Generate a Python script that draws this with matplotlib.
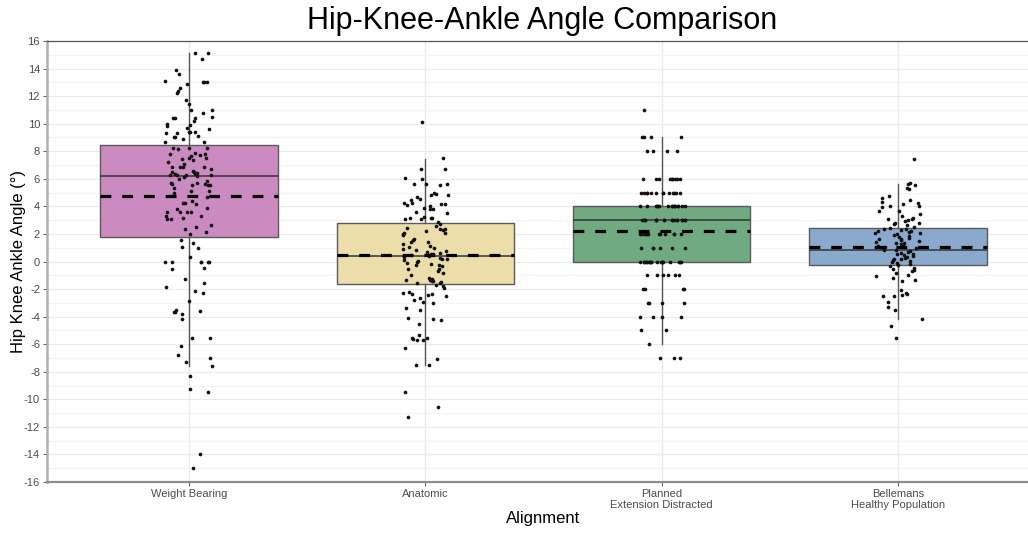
import numpy as np
import matplotlib
matplotlib.use("Agg")
import matplotlib.pyplot as plt

plt.rcParams['font.family'] = ['Liberation Sans', 'DejaVu Sans']

categories = ["Weight Bearing", "Anatomic", "Planned\nExtension Distracted",
              "Bellemans\nHealthy Population"]
box_colors = ["#cb8bc1", "#ecdeaa", "#6faa80", "#8aa9cc"]

# box statistics
q1 = [1.78, -1.60, 0.0, -0.27]
medians = [6.17, 0.40, 3.0, 0.85]
q3 = [8.44, 2.81, 4.0, 2.42]
whis_lo = [-7.57, -7.54, -6.0, -4.17]
whis_hi = [15.1, 7.47, 9.0, 5.62]
means = [4.75, 0.45, 2.2, 1.04]

weight_bearing = [
    15.1, 15.1, 14.7, 13.9, 13.6, 13.0, 13.1, 13.0, 13.0, 12.9, 12.6, 12.4, 12.2,
    11.7, 11.4, 11.0, 11.0, 10.8, 10.4, 10.5, 10.4, 10.4, 10.2, 10.0, 9.8, 9.9,
    9.7, 9.6, 9.4, 9.4, 9.4, 9.3, 9.3, 9.0, 9.1, 9.05, 8.9, 8.7, 8.7,
    8.24, 8.15, 8.24, 8.24, 7.83, 7.9, 7.76, 7.83, 7.66, 7.54, 7.54, 7.47, 7.35,
    7.22, 7.05, 6.86, 6.86, 6.86, 6.86, 6.69, 6.6, 6.52, 6.38, 6.45, 6.47, 6.3,
    6.25, 6.16, 6.25, 6.3, 6.38, 6.2, 5.96, 5.84, 5.72, 5.72, 5.62, 5.55, 5.55,
    5.55, 5.65, 5.33, 5.12, 5.12, 5.0, 4.71, 4.15, 4.41, 4.27, 4.27, 3.83, 3.56,
    3.9, 3.56, 3.56, 3.56, 3.3, 3.3, 3.17, 3.05, 3.05, 2.64, 2.52, 2.33, 2.03, 2.13,
    1.53, 1.36, 0.95, 1.05, 0.36, 0.0, 0.0, 0.0, 0.0, 0.0, 0.0, -0.48, -0.58,
    -1.28, -1.55, -1.88, -2.15, -2.27, -2.85, -3.59, -3.5, -3.7, -3.8, -3.7, -4.2,
    -5.55, -5.58, -6.16, -6.78, -7.0, -7.3, -7.57, -8.3, -9.25, -9.5, -14.0, -14.98,
]

anatomic = [
    10.13, 7.51, 6.72, 6.70, 6.06, 5.96, 5.65, 5.65, 5.65, 5.58, 4.99, 4.92, 4.85,
    4.80, 4.70, 4.51, 4.46, 4.27, 4.22, 4.19, 4.19, 4.07, 4.00, 3.90, 3.78, 3.78,
    3.59, 3.54, 3.20, 3.18, 3.18, 3.13, 3.08, 3.05, 2.86,
    2.69, 2.57, 2.45, 2.38, 2.33, 2.28, 2.21, 2.08, 2.04, 1.96, 1.89, 1.60, 1.53,
    1.45, 1.41, 1.24, 1.12, 1.07, 0.99, 0.92, 0.82, 0.75, 0.68, 0.63, 0.58, 0.51,
    0.46, 0.39, 0.34, 0.27, 0.19, 0.15, 0.10, 0.02, -0.05, -0.10, -0.15, -0.22,
    -0.29, -0.34, -0.53, -0.58, -0.70, -0.82, -0.95, -1.19, -1.26, -1.31, -1.36,
    -1.43, -1.43, -1.50, -1.55, -1.55,
    -1.67, -1.75, -1.92, -2.23, -2.28, -2.33, -2.33, -2.40, -2.52, -2.64, -2.76,
    -2.93, -3.01, -3.37, -3.54, -4.10, -4.17, -4.27, -4.53, -5.33, -5.53, -5.58,
    -5.62, -5.67, -5.72, -6.30, -7.08, -7.54, -7.54, -9.48, -10.57, -11.25,
]

planned = (
    [11] + [9] * 4 + [8] * 4 + [6] * 9 + [5] * 13 + [4] * 16 + [3] * 18 +
    [2] * 12 + [1] * 6 + [0] * 18 + [-1] * 6 + [-2] * 4 + [-3] * 4 + [-4] * 4 +
    [-5] * 2 + [-6] * 1 + [-7] * 3
)

bellemans = [
    7.42, 5.67, 5.60, 5.55, 5.33, 5.24, 4.75, 4.63, 4.44, 4.32, 4.27, 4.15, 4.02,
    4.02, 3.98, 3.66, 3.66, 3.42, 3.30, 3.18, 3.10, 3.05, 3.01, 2.93, 2.81, 2.76,
    2.69, 2.62, 2.52, 2.45,
    2.38, 2.33, 2.28, 2.21, 2.21, 2.13, 2.08, 2.04, 1.96, 1.89, 1.84, 1.79, 1.72,
    1.65, 1.60, 1.55, 1.48, 1.41, 1.36, 1.31, 1.24, 1.16, 1.12, 1.07, 0.99, 0.95,
    0.87, 0.82, 0.75, 0.70, 0.63, 0.58, 0.51, 0.44, 0.39, 0.34, 0.27, 0.19, 0.15,
    0.10, 0.02, -0.05, -0.10, -0.15, -0.22,
    -0.34, -0.46, -0.58, -0.63, -0.70, -0.82, -0.95, -1.07, -1.19, -1.31, -1.43,
    -2.04, -2.28, -2.33, -2.40, -2.47, -2.52, -2.96, -3.30, -3.49, -4.17, -4.70,
    -5.55,
]

groups = [weight_bearing, anatomic, planned, bellemans]

y_ticks = list(range(-16, 17, 2))

fig = plt.figure(figsize=(10.28, 5.33), dpi=100)
ax = fig.add_axes([47 / 1028, 1 - 482 / 533, (1040 - 47) / 1028, (482 - 41) / 533])

positions = np.arange(1, len(categories) + 1)
box_width = 0.75

# grid
ax.set_axisbelow(True)
ax.set_yticks(y_ticks)
ax.set_yticks(range(-15, 16, 2), minor=True)
ax.grid(axis='y', which='major', color='#ebebeb', lw=0.9, zorder=0)
ax.grid(axis='y', which='minor', color='#f4f4f4', lw=0.9, zorder=0)
ax.grid(axis='x', which='major', color='#ebebeb', lw=0.9, zorder=0)

stats = []
for i in range(len(categories)):
    stats.append(dict(q1=q1[i], med=medians[i], q3=q3[i], whislo=whis_lo[i],
                      whishi=whis_hi[i], mean=means[i], fliers=[], label=categories[i]))

bp = ax.bxp(stats, positions=positions, widths=box_width, patch_artist=True,
            showcaps=False, showfliers=False, showmeans=False,
            boxprops=dict(edgecolor='#5a5a5a', linewidth=1.0),
            whiskerprops=dict(color='#555555', linewidth=1.0),
            medianprops=dict(color='#333333', linewidth=1.1))
for patch, c in zip(bp['boxes'], box_colors):
    patch.set_facecolor(c)
    patch.set_zorder(2)
for w in bp['whiskers']:
    w.set_zorder(2)
for m in bp['medians']:
    m.set_zorder(3)

# jittered points (horizontal jitter only)
rng = np.random.default_rng(7)
for pos, vals in zip(positions, groups):
    vals = np.asarray(vals, dtype=float)
    xj = pos + rng.uniform(-0.1, 0.1, size=len(vals))
    ax.scatter(xj, vals, s=7, color='#111111', linewidths=0, zorder=4)

# mean lines (dashed)
ax.hlines(means, positions - box_width / 2, positions + box_width / 2,
          colors='black', linewidth=2.3, linestyles=(0, (3.4, 3.4)), zorder=5)

ax.set_xlim(0.4, 4.6)
ax.set_ylim(-16, 16)
ax.set_xticks(positions)
ax.set_xticklabels(categories, fontsize=8, color='#4d4d4d', linespacing=1.15)
ax.set_yticklabels([str(t) for t in y_ticks], fontsize=8, color='#4d4d4d')
ax.tick_params(axis='both', which='major', length=3, width=0.8, color='#666666', pad=2)
ax.tick_params(axis='y', which='minor', length=0)

ax.spines['right'].set_visible(False)
ax.spines['top'].set_color('#555555')
ax.spines['top'].set_linewidth(0.9)
ax.spines['left'].set_color('#b0b0b0')
ax.spines['left'].set_linewidth(1.8)
ax.spines['bottom'].set_color('#8c8c8c')
ax.spines['bottom'].set_linewidth(1.6)

ax.set_ylabel("Hip Knee Ankle Angle (°)", fontsize=12, color='black')
ax.yaxis.set_label_coords((26 - 47) / 993, 0.5)
ax.set_xlabel("Alignment", fontsize=12, color='black')
ax.xaxis.set_label_coords(0.5, -(511 - 482) / 441)
fig.text(542 / 1028, 1 - 21 / 533, "Hip-Knee-Ankle Angle Comparison", fontsize=22,
         ha='center', va='center', color='black')

fig.savefig("out.png", dpi=100)
